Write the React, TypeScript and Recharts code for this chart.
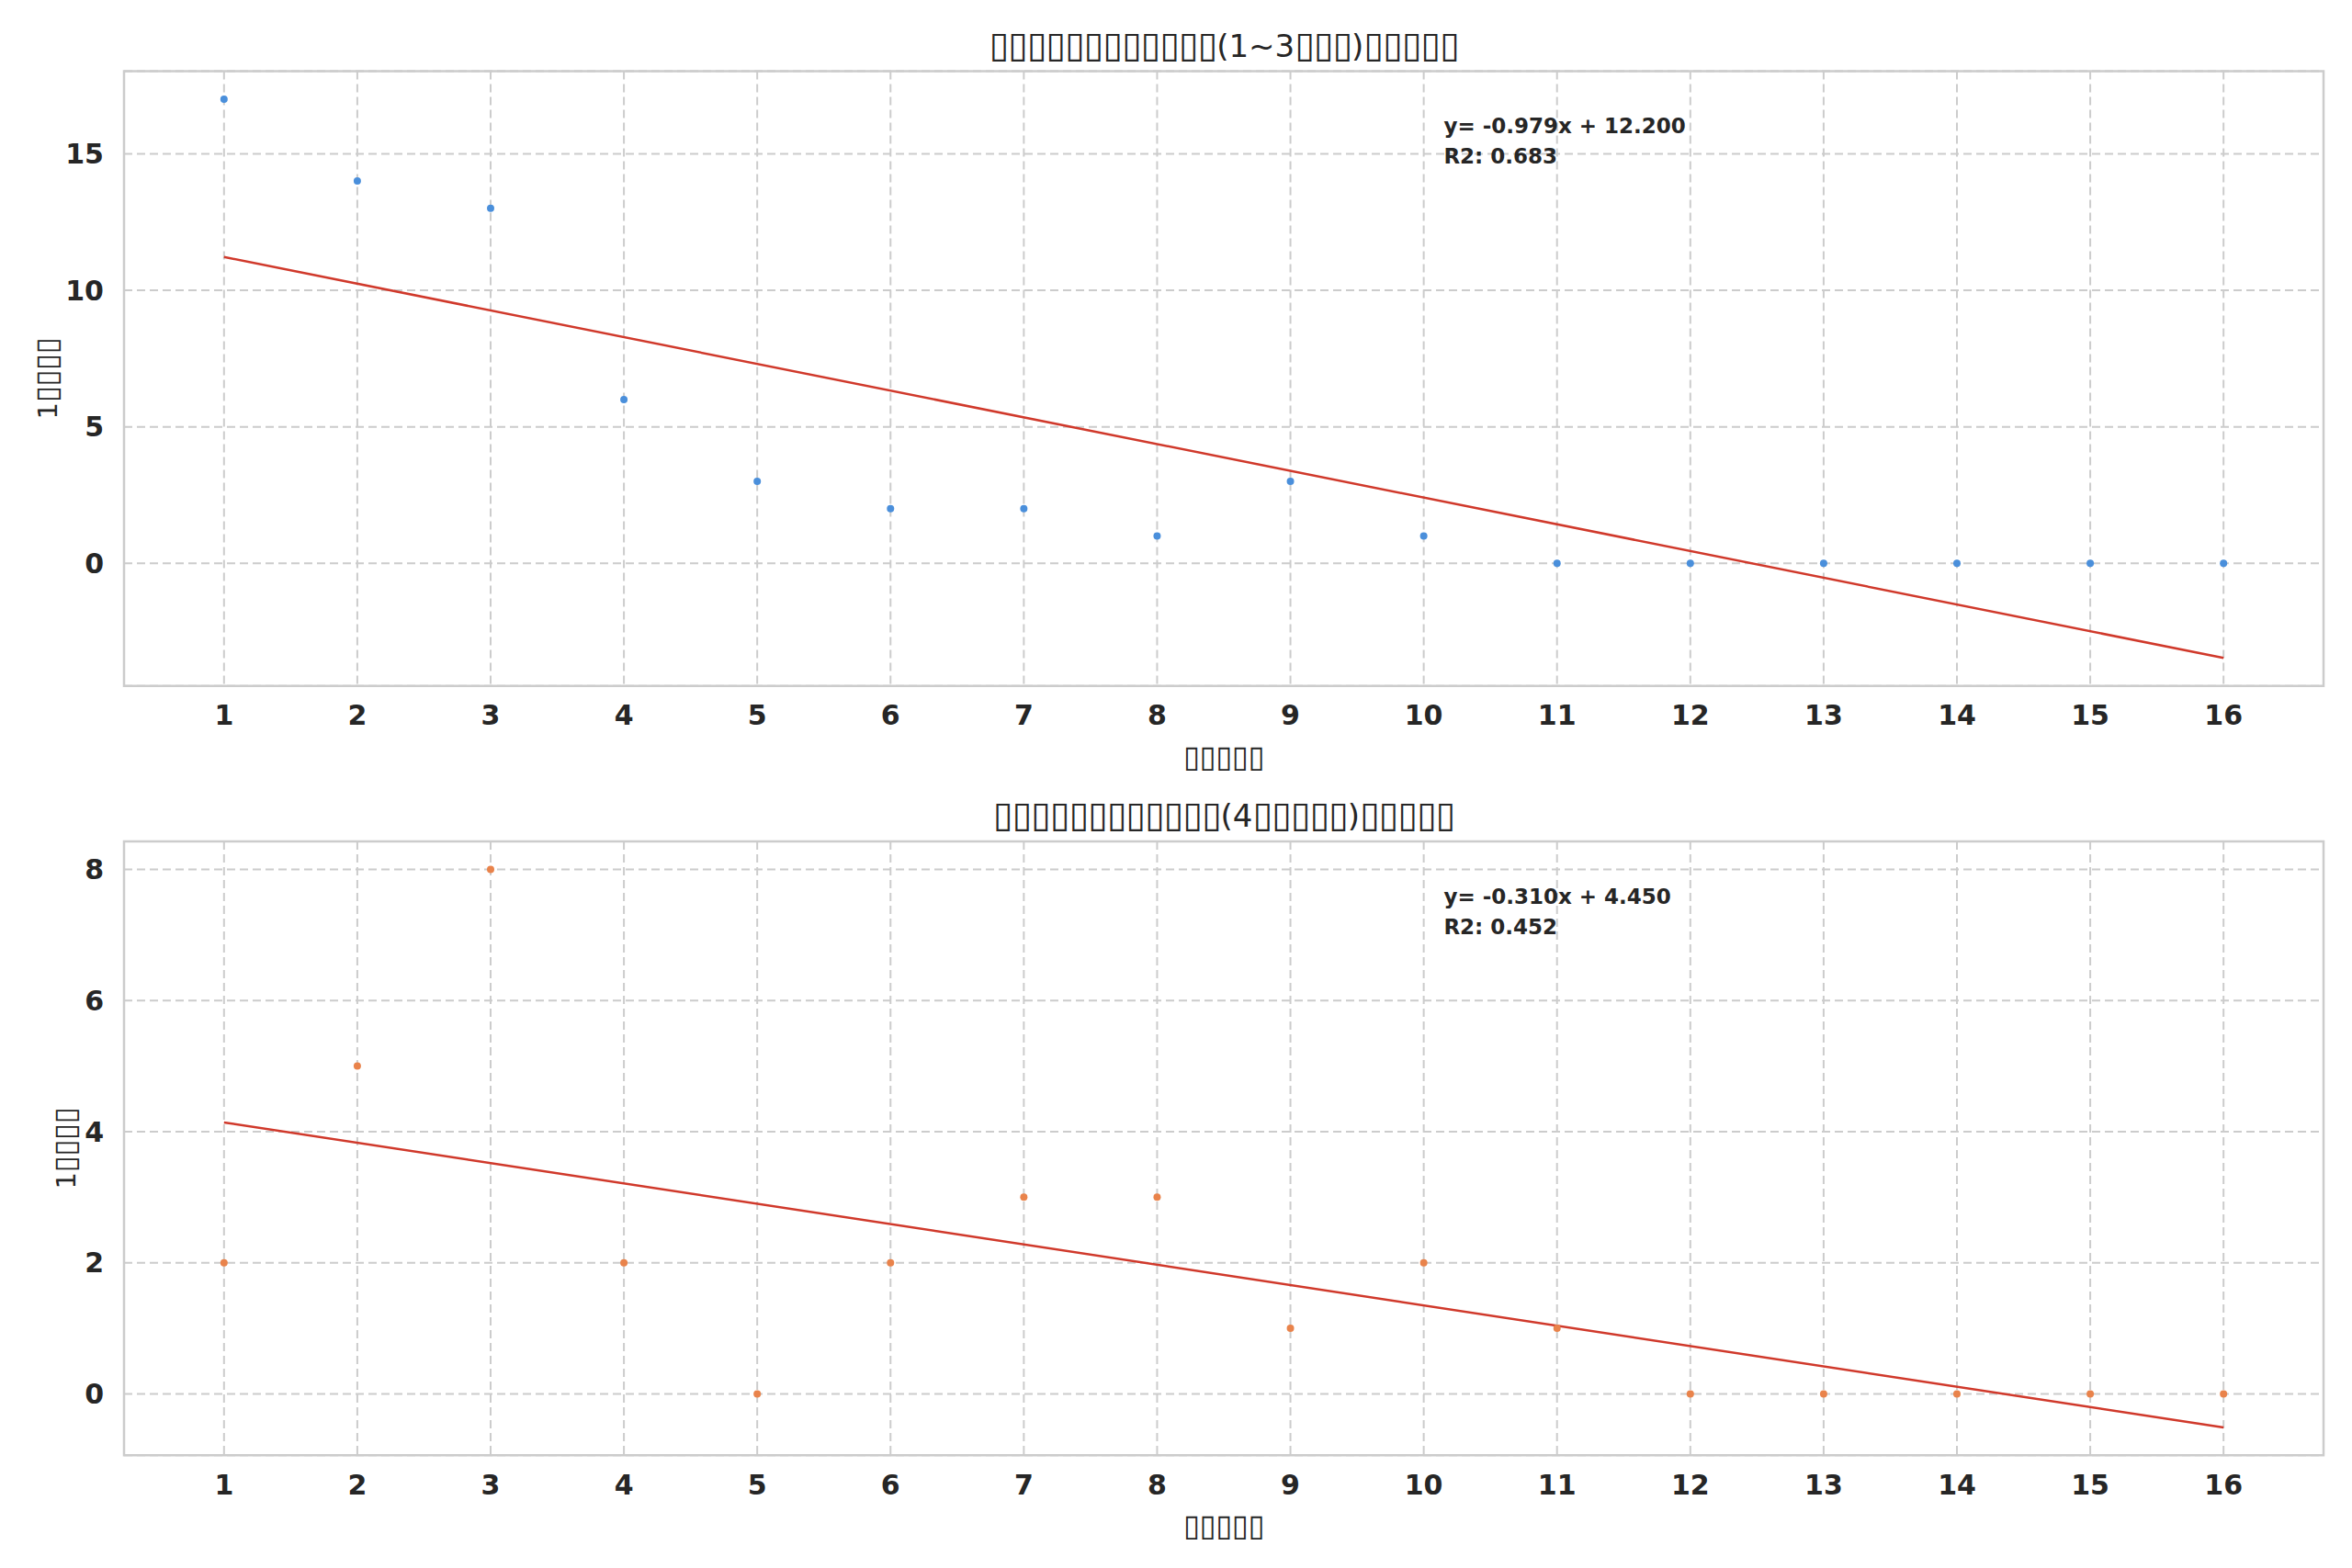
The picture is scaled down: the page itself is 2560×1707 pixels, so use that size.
import React from 'react';
import {
  ScatterChart,
  Scatter,
  XAxis,
  YAxis,
  CartesianGrid,
  ReferenceLine,
  ReferenceArea,
} from 'recharts';

// ---------- data ----------
const weeks = [1, 2, 3, 4, 5, 6, 7, 8, 9, 10, 11, 12, 13, 14, 15, 16];
const topValues = [17, 14, 13, 6, 3, 2, 2, 1, 3, 1, 0, 0, 0, 0, 0, 0];
const bottomValues = [2, 5, 8, 2, 0, 2, 3, 3, 1, 2, 1, 0, 0, 0, 0, 0];
const xTicks = [1, 2, 3, 4, 5, 6, 7, 8, 9, 10, 11, 12, 13, 14, 15, 16];
const topYTicks = [0, 5, 10, 15];
const bottomYTicks = [0, 2, 4, 6, 8];
const topFit = { slope: -0.979, intercept: 12.2, r2: 0.683 };
const bottomFit = { slope: -0.31, intercept: 4.45, r2: 0.452 };
const topTitle = '▯▯▯▯▯▯▯▯▯▯▯▯(1~3▯▯▯)▯▯▯▯▯';
const bottomTitle = '▯▯▯▯▯▯▯▯▯▯▯▯(4▯▯▯▯▯)▯▯▯▯▯';
const xLabel = '▯▯▯▯▯';
const yLabel = '1▯▯▯▯';

const FONT = 'DejaVu Sans';
const TEXT = '#262626';
const GRID = '#cccccc';
const BOX = '▯';

function richText(str: string, adjust: string, scale: number) {
  const runs: { box: boolean; s: string }[] = [];
  for (const ch of str) {
    const box = ch === BOX;
    const last = runs[runs.length - 1];
    if (last && last.box === box) last.s += ch;
    else runs.push({ box, s: ch });
  }
  return runs.map((r, i) =>
    r.box ? (
      <tspan key={i} letterSpacing={adjust} fontSize={`${scale}em`}>
        {r.s}
      </tspan>
    ) : (
      <tspan key={i}>{r.s}</tspan>
    )
  );
}

function paddedDomain(values: number[], fit: { slope: number; intercept: number }): [number, number] {
  const lineEnds = [fit.intercept + fit.slope * weeks[0], fit.intercept + fit.slope * weeks[weeks.length - 1]];
  const all = [...values, ...lineEnds];
  const lo = Math.min(...all);
  const hi = Math.max(...all);
  const pad = (hi - lo) * 0.05;
  return [lo - pad, hi + pad];
}

type PanelProps = {
  values: number[];
  color: string;
  yTicks: number[];
  fit: { slope: number; intercept: number; r2: number };
  title: string;
  height: number;
  marginTop: number;
  xAxisHeight: number;
  yLabelBaseline: number;
};

const BOX_SCALE = 1.15;
const BOX_ADJ = '-0.022em';

function Panel(p: PanelProps) {
  const points = weeks.map((w, i) => ({ x: w, y: p.values[i] }));
  const xDomain: [number, number] = [0.25, 16.75];
  const yDomain = paddedDomain(p.values, p.fit);
  const x0 = weeks[0];
  const x1 = weeks[weeks.length - 1];

  const overlay = (props: any) => {
    const vb = props.viewBox || {};
    const { x = 0, y = 0, width = 0, height = 0 } = vb;
    const cx = x + width / 2;
    const cy = y + height / 2;
    const ax = x + width * 0.6;
    const sign = p.fit.intercept >= 0 ? '+' : '-';
    const ylx = x + p.yLabelBaseline;
    return (
      <g>
        <text x={cx} y={y - 16} textAnchor="middle" fontFamily={FONT} fontSize={34} fill={TEXT}>
          {richText(p.title, BOX_ADJ, BOX_SCALE)}
        </text>
        <text x={ax} y={y + 67.5} fontFamily={FONT} fontSize={23} fontWeight="bold" fill={TEXT}>
          {`y= ${p.fit.slope.toFixed(3)}x ${sign} ${Math.abs(p.fit.intercept).toFixed(3)}`}
        </text>
        <text x={ax} y={y + 100.8} fontFamily={FONT} fontSize={23} fontWeight="bold" fill={TEXT}>
          {`R2: ${p.fit.r2.toFixed(3)}`}
        </text>
        <text x={cx} y={y + height + 88} textAnchor="middle" fontFamily={FONT} fontSize={29} fill={TEXT}>
          {richText(xLabel, BOX_ADJ, BOX_SCALE)}
        </text>
        <text
          x={ylx}
          y={cy}
          textAnchor="middle"
          transform={`rotate(-90, ${ylx}, ${cy})`}
          fontFamily={FONT}
          fontSize={29}
          fill={TEXT}
        >
          {richText(yLabel, BOX_ADJ, BOX_SCALE)}
        </text>
      </g>
    );
  };

  const tickStyle = { fill: TEXT, fontSize: 30, fontWeight: 'bold', fontFamily: FONT };

  return (
    <ScatterChart
      width={2560}
      height={p.height}
      margin={{ top: p.marginTop, right: 31, bottom: 0, left: 0 }}
    >
      <CartesianGrid stroke={GRID} strokeWidth={2} strokeDasharray="9 5" />
      <XAxis
        type="number"
        dataKey="x"
        domain={xDomain}
        ticks={xTicks}
        interval={0}
        allowDataOverflow
        axisLine={false}
        tickLine={false}
        tickSize={0}
        tickMargin={21}
        height={p.xAxisHeight}
        tick={tickStyle}
      />
      <YAxis
        type="number"
        dataKey="y"
        domain={yDomain}
        ticks={p.yTicks}
        interval={0}
        allowDataOverflow
        axisLine={false}
        tickLine={false}
        tickSize={0}
        tickMargin={22}
        width={135}
        tick={tickStyle}
      />
      <ReferenceLine
        segment={[
          { x: x0, y: p.fit.intercept + p.fit.slope * x0 },
          { x: x1, y: p.fit.intercept + p.fit.slope * x1 },
        ]}
        stroke="#d0392b"
        strokeWidth={2.5}
        ifOverflow="visible"
      />
      <Scatter
        data={points}
        fill={p.color}
        isAnimationActive={false}
        shape={(s: any) => <circle cx={s.cx} cy={s.cy} r={4} fill={p.color} />}
      />
      <ReferenceArea
        x1={xDomain[0]}
        x2={xDomain[1]}
        y1={yDomain[0]}
        y2={yDomain[1]}
        fill="none"
        fillOpacity={0}
        stroke={GRID}
        strokeWidth={2.5}
        strokeOpacity={1}
        ifOverflow="visible"
        label={overlay}
      />
    </ScatterChart>
  );
}

export default function App() {
  return (
    <div
      style={{
        position: 'absolute',
        left: 0,
        top: 0,
        width: 2560,
        height: 1707,
        background: '#ffffff',
        overflow: 'hidden',
      }}
    >
      <Panel
        values={topValues}
        color="#4a8fdb"
        yTicks={topYTicks}
        fit={topFit}
        title={topTitle}
        height={853}
        marginTop={77.5}
        xAxisHeight={106.3}
        yLabelBaseline={-73.3}
      />
      <Panel
        values={bottomValues}
        color="#e9834b"
        yTicks={bottomYTicks}
        fit={bottomFit}
        title={bottomTitle}
        height={854}
        marginTop={63}
        xAxisHeight={122.7}
        yLabelBaseline={-53.3}
      />
    </div>
  );
}
